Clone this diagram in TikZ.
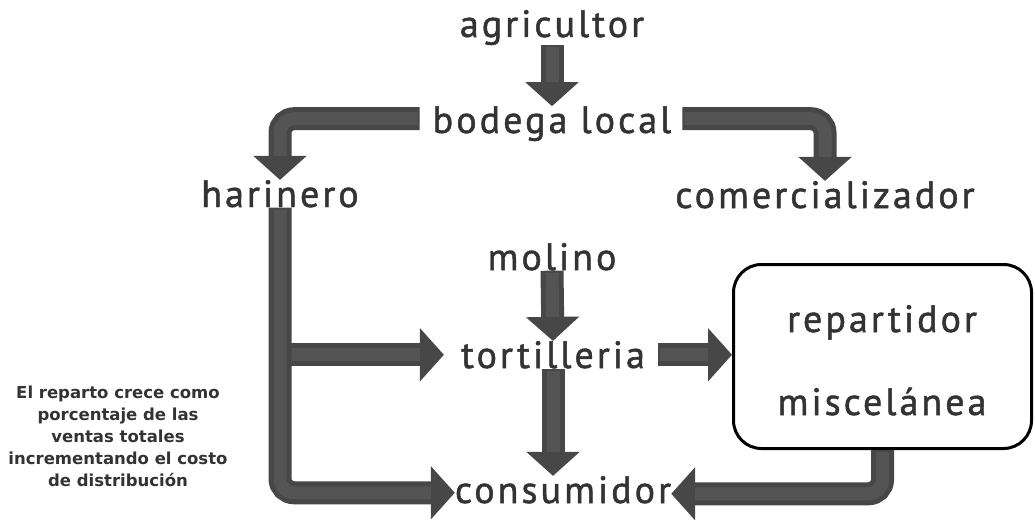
\documentclass[tikz,border=0pt]{standalone}
\usepackage{fontspec}
\usetikzlibrary{arrows.meta,calc}
\newfontfamily\lblfont[LetterSpace=8,FakeBold=1.3]{PT Sans}
\newfontfamily\notefont{DejaVu Sans}
\definecolor{pipe}{HTML}{474747}
\definecolor{pipehi}{HTML}{545454}
\definecolor{ink}{HTML}{333333}
\tikzset{
  lbl/.style={font=\lblfont\fontsize{38}{40}\selectfont, text=ink, inner sep=0pt},
  pipe/.style={draw=pipe, line width=23pt, rounded corners=14pt,
    -{Triangle[length=24pt,width=52pt]}},
  pipehl/.style={draw=pipehi, line width=13pt, rounded corners=14pt,
    shorten >=24pt, shorten <=2pt},
  bubble/.style={draw=black, line width=3pt, rounded corners=28pt,
    minimum width=298pt, minimum height=184pt},
  note/.style={font=\notefont\bfseries\fontsize{16.5}{22}\selectfont,
    text=ink, align=center, inner sep=0pt},
}
% a thick grey pipe with a slightly lighter core
\newcommand\pipeway[1]{\draw[pipe] #1; \draw[pipehl] #1;}
\begin{document}
\begin{tikzpicture}[x=1pt,y=-1pt]
\useasboundingbox (0,0) rectangle (1035,519);

% rounded frame holding the retail stage
\node[bubble] (box) at (882.5,356.5) {};

% labels
\node[lbl, anchor=base] (agri) at (552,37)  {agricultor};
\node[lbl, anchor=base] (bod)  at (552,133) {bodega local};
\node[lbl, anchor=base] (har)  at (280,207) {harinero};
\node[lbl, anchor=base] (com)  at (825,208) {comercializador};
\node[lbl, anchor=base] (mol)  at (552,270) {molino};
\node[lbl, anchor=base] (tort) at (553,368) {tortilleria};
\node[lbl, anchor=base] (rep)  at (882,332) {repartidor};
\node[lbl, anchor=base] (mis)  at (882,415) {miscelánea};
\node[lbl, anchor=base] (cons) at (563,503) {consumidor};

\node[note] (nota) at (118,436) {El reparto crece como\\porcentaje de las\\ventas totales\\incrementando el costo\\de distribución};

% flows
\pipeway{(agri.south) -- (bod.north)}
\pipeway{($(bod.west)+(-13,-5)$) -| (har.north)}
\pipeway{($(bod.east)+(11,-5)$) -| (com.north)}
\pipeway{(mol.south) -- (tort.north)}
\pipeway{(tort.south) -- (tort.south |- cons.north)}
\pipeway{(har.south |- tort.west) -- ($(tort.west)+(-17,0)$)}
\pipeway{(har.south) |- ($(cons.west)+(0,3)$)}
\pipeway{($(tort.east)+(13,0)$) -- (tort.east -| box.west)}
\pipeway{(box.south) |- ($(cons.east)+(0,4)$)}
\end{tikzpicture}
\end{document}
